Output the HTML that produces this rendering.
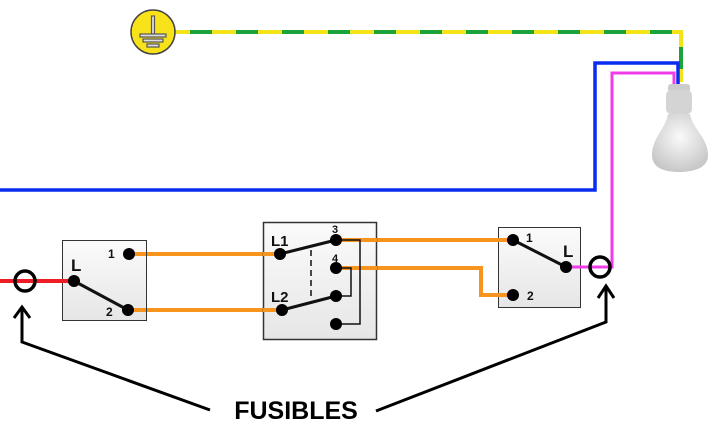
<!DOCTYPE html>
<html><head><meta charset="utf-8"><style>body{margin:0;background:#fff}svg{display:block}</style></head><body>
<svg width="714" height="426" viewBox="0 0 714 426" xmlns="http://www.w3.org/2000/svg">
<defs>
<linearGradient id="bx" x1="0" y1="0" x2="0" y2="1"><stop offset="0" stop-color="#fbfbfb"/><stop offset="1" stop-color="#e6e6e6"/></linearGradient>
<radialGradient id="gl" cx="0.5" cy="0.4" r="0.6"><stop offset="0" stop-color="#fafafa"/><stop offset="1" stop-color="#c8c8c8"/></radialGradient>
</defs>
<!-- earth wire -->
<polyline points="175,32 681,32 681,82" fill="none" stroke="#f5e31a" stroke-width="4"/>
<polyline points="175,32 681,32 681,82" fill="none" stroke="#1aa33a" stroke-width="4" stroke-dasharray="22,24" stroke-dashoffset="-15"/>
<!-- blue -->
<polyline points="0,190 595,190 595,63 678,63 678,84" fill="none" stroke="#0a2cf0" stroke-width="3.5"/>
<!-- magenta -->
<polyline points="566,267 612,267 612,73 674,73 674,84" fill="none" stroke="#f03ce8" stroke-width="3"/>
<!-- earth symbol -->
<circle cx="153" cy="32" r="22" fill="#f8e21a" stroke="#444" stroke-width="1.5"/>
<g stroke="#555" stroke-width="1.2" fill="#ddd">
<rect x="151.5" y="16" width="3" height="18"/><rect x="140" y="34" width="26" height="3"/><rect x="143" y="39" width="20" height="3"/><rect x="147" y="44" width="12" height="3"/></g>
<!-- bulb -->
<rect x="668" y="84" width="22" height="8" rx="3" fill="#ccc"/>
<rect x="666" y="90" width="26" height="24" rx="5" fill="#d4d4d4"/>
<path d="M668,114 L690,114 C692,128 708,138 708,155 C708,168 694,172 679,172 C664,172 652,168 652,155 C652,138 666,128 668,114 Z" fill="url(#gl)"/>
<!-- orange wires -->
<g fill="none" stroke="#f7941d" stroke-width="4">
<line x1="129" y1="254" x2="280" y2="254"/>
<line x1="128" y1="310" x2="282" y2="310"/>
<line x1="336" y1="240" x2="513" y2="240"/>
<polyline points="336,268 481,268 481,295 513,295"/>
</g>
<!-- red -->
<line x1="0" y1="281" x2="74" y2="281" stroke="#ee1c24" stroke-width="4"/>
<!-- boxes -->
<rect x="62.5" y="240.5" width="84" height="80" fill="url(#bx)" stroke="#333"/>
<rect x="263.5" y="222.5" width="113" height="117" fill="url(#bx)" stroke="#333" stroke-width="1.5"/>
<rect x="498.5" y="227.5" width="82" height="80" fill="url(#bx)" stroke="#333"/>
<line x1="0" y1="281" x2="74" y2="281" stroke="#ee1c24" stroke-width="4"/>
<line x1="129" y1="254" x2="146" y2="254" stroke="#f7941d" stroke-width="4"/>
<line x1="128" y1="310" x2="146" y2="310" stroke="#f7941d" stroke-width="4"/>
<line x1="263" y1="254" x2="280" y2="254" stroke="#f7941d" stroke-width="4"/>
<line x1="263" y1="310" x2="282" y2="310" stroke="#f7941d" stroke-width="4"/>
<line x1="336" y1="240" x2="377" y2="240" stroke="#f7941d" stroke-width="4"/>
<line x1="336" y1="268" x2="377" y2="268" stroke="#f7941d" stroke-width="4"/>
<line x1="498" y1="240" x2="513" y2="240" stroke="#f7941d" stroke-width="4"/>
<line x1="498" y1="295" x2="513" y2="295" stroke="#f7941d" stroke-width="4"/>
<line x1="566" y1="267" x2="581" y2="267" stroke="#f03ce8" stroke-width="3"/>
<!-- internal wiring -->
<g fill="none" stroke="#111" stroke-width="1.5">
<polyline points="336,240 360,240 360,324 336,324"/>
<polyline points="336,268 351,268 351,296 336,296"/>
<line x1="311" y1="250" x2="311" y2="300" stroke-dasharray="6,4"/>
</g>
<g stroke="#111" stroke-width="3">
<line x1="74" y1="281" x2="128" y2="310"/>
<line x1="280" y1="254" x2="336" y2="240"/>
<line x1="282" y1="310" x2="336" y2="296"/>
<line x1="513" y1="240" x2="566" y2="267"/>
</g>
<g fill="#000">
<circle cx="74" cy="281" r="6"/><circle cx="129" cy="254" r="6"/><circle cx="128" cy="310" r="6"/>
<circle cx="280" cy="254" r="6"/><circle cx="282" cy="310" r="6"/>
<circle cx="336" cy="240" r="6"/><circle cx="336" cy="268" r="6"/><circle cx="336" cy="296" r="6"/><circle cx="336" cy="324" r="6"/>
<circle cx="513" cy="240" r="6"/><circle cx="513" cy="295" r="6"/><circle cx="566" cy="267" r="6"/>
</g>
<g font-family="'Liberation Sans',sans-serif" font-weight="bold" fill="#111">
<text x="71" y="271" font-size="17">L</text>
<text x="108" y="258" font-size="12">1</text>
<text x="106" y="316" font-size="12">2</text>
<text x="271" y="246" font-size="15">L1</text>
<text x="271" y="302" font-size="15">L2</text>
<text x="332" y="233" font-size="11">3</text>
<text x="332" y="262" font-size="11">4</text>
<text x="526" y="242" font-size="12">1</text>
<text x="563" y="257" font-size="17">L</text>
<text x="527" y="300" font-size="12">2</text>
</g>
<!-- fuses -->
<circle cx="25" cy="281" r="10" fill="none" stroke="#000" stroke-width="3.5"/>
<circle cx="600" cy="267" r="10" fill="none" stroke="#000" stroke-width="3.5"/>
<!-- arrows -->
<g fill="none" stroke="#000" stroke-width="3">
<polyline points="22,307 22,342 210,410"/>
<polyline points="14,318 22,307 30,318"/>
<polyline points="376,411 606,322 606,286"/>
<polyline points="598,298 606,286 614,298"/>
</g>
<text x="296" y="419" text-anchor="middle" font-family="'Liberation Sans',sans-serif" font-weight="bold" font-size="25" fill="#000">FUSIBLES</text>
</svg>
</body></html>
